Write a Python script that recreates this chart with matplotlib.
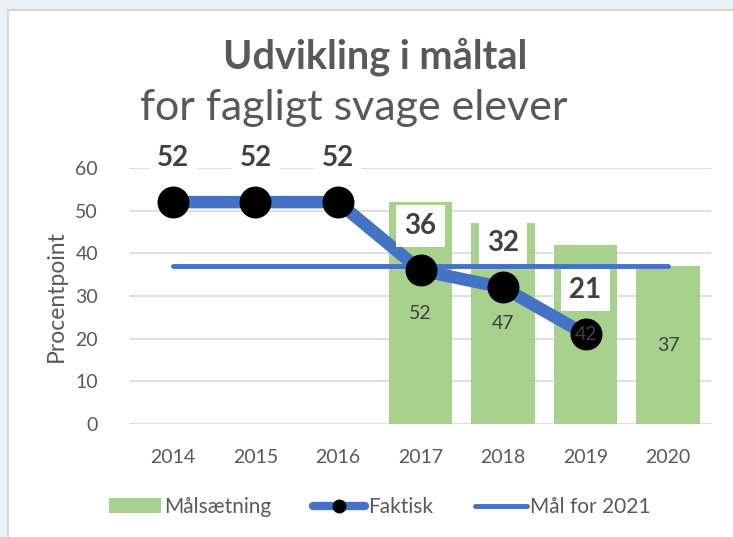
import matplotlib.pyplot as plt
from matplotlib.patches import Rectangle
from matplotlib.lines import Line2D
import numpy as np

years = ['2014', '2015', '2016', '2017', '2018', '2019', '2020']
maalsaetning = [None, None, None, 52, 47, 42, 37]
faktisk = [52, 52, 52, 36, 32, 21]
maal_2021 = 37

plt.rcParams['font.family'] = ['Lato', 'DejaVu Sans']
grey = '#595959'
green = '#A9D18E'
blue = '#4472C4'

fig = plt.figure(figsize=(7.33, 5.37), dpi=100)
fig.patch.set_facecolor('#EAF2F6')
fig.patches.append(Rectangle((8 / 733, -0.1), 1.0, 1 - 10 / 537 + 0.1,
                             transform=fig.transFigure, facecolor='white',
                             edgecolor='#D6D6D6', linewidth=1.5, zorder=-5))

ax = fig.add_axes([130 / 733, (537 - 424) / 537, 581 / 733, 256 / 537])
ax.set_facecolor('none')
x = np.arange(len(years))

# bars
bx = [i for i, v in enumerate(maalsaetning) if v is not None]
bv = [v for v in maalsaetning if v is not None]
ax.bar(bx, bv, width=0.77, color=green, zorder=2)
for i, v in zip(bx, bv):
    ax.text(i, v / 2, str(v), ha='center', va='center', fontsize=14, color='#404040', zorder=6)

# target line
ax.plot([x[0], x[-1]], [maal_2021] * 2, color=blue, lw=3.5, solid_capstyle='round', zorder=3)

# actual line
fx = x[:len(faktisk)]
ax.plot(fx, faktisk, color=blue, lw=9, solid_capstyle='round', zorder=4)
ax.plot(fx, faktisk, 'o', color='black', markersize=22, zorder=5)
for i, v in zip(fx, faktisk):
    ax.annotate(str(v), (i, v), xytext=(0, 32), textcoords='offset points',
                ha='center', va='center', fontsize=20, fontweight='bold', color='#404040',
                bbox=dict(boxstyle='square,pad=0.3', facecolor='white', edgecolor='none'),
                zorder=7)

ax.set_ylim(0, 60)
ax.set_xlim(-0.52, 6.52)
ax.set_yticks(range(0, 61, 10))
ax.set_xticks(x)
ax.set_xticklabels(years)
ax.yaxis.grid(True, color='#D9D9D9', lw=1.2, zorder=0)
ax.set_axisbelow(True)
for s in ax.spines.values():
    s.set_visible(False)
ax.tick_params(length=0, labelsize=14, colors=grey, pad=18)
ax.tick_params(axis='y', pad=23)
ax.set_ylabel('Procentpoint', fontsize=16.5, color=grey, labelpad=6)

fig.text(375 / 733, 1 - 57 / 537, 'Udvikling i måltal', ha='center', va='center',
         fontsize=28.5, fontweight='bold', color=grey)
fig.text(354 / 733, 1 - 108 / 537, 'for fagligt svage elever', ha='center', va='center',
         fontsize=31, color=grey)

handles = [Rectangle((0, 0), 1, 1, facecolor=green),
           Line2D([], [], color=blue, lw=6, marker='o', markersize=9,
                  markerfacecolor='black', markeredgecolor='black', solid_capstyle='round'),
           Line2D([], [], color=blue, lw=3.5, solid_capstyle='round')]
fig.legend(handles, ['Målsætning', 'Faktisk', 'Mål for 2021'], loc='center',
           bbox_to_anchor=(380 / 733, 1 - 507 / 537), ncol=3, frameon=False,
           fontsize=15, labelcolor=grey, handlelength=2.5, handletextpad=0.15,
           columnspacing=2.0)

fig.savefig('out.png', dpi=100)
